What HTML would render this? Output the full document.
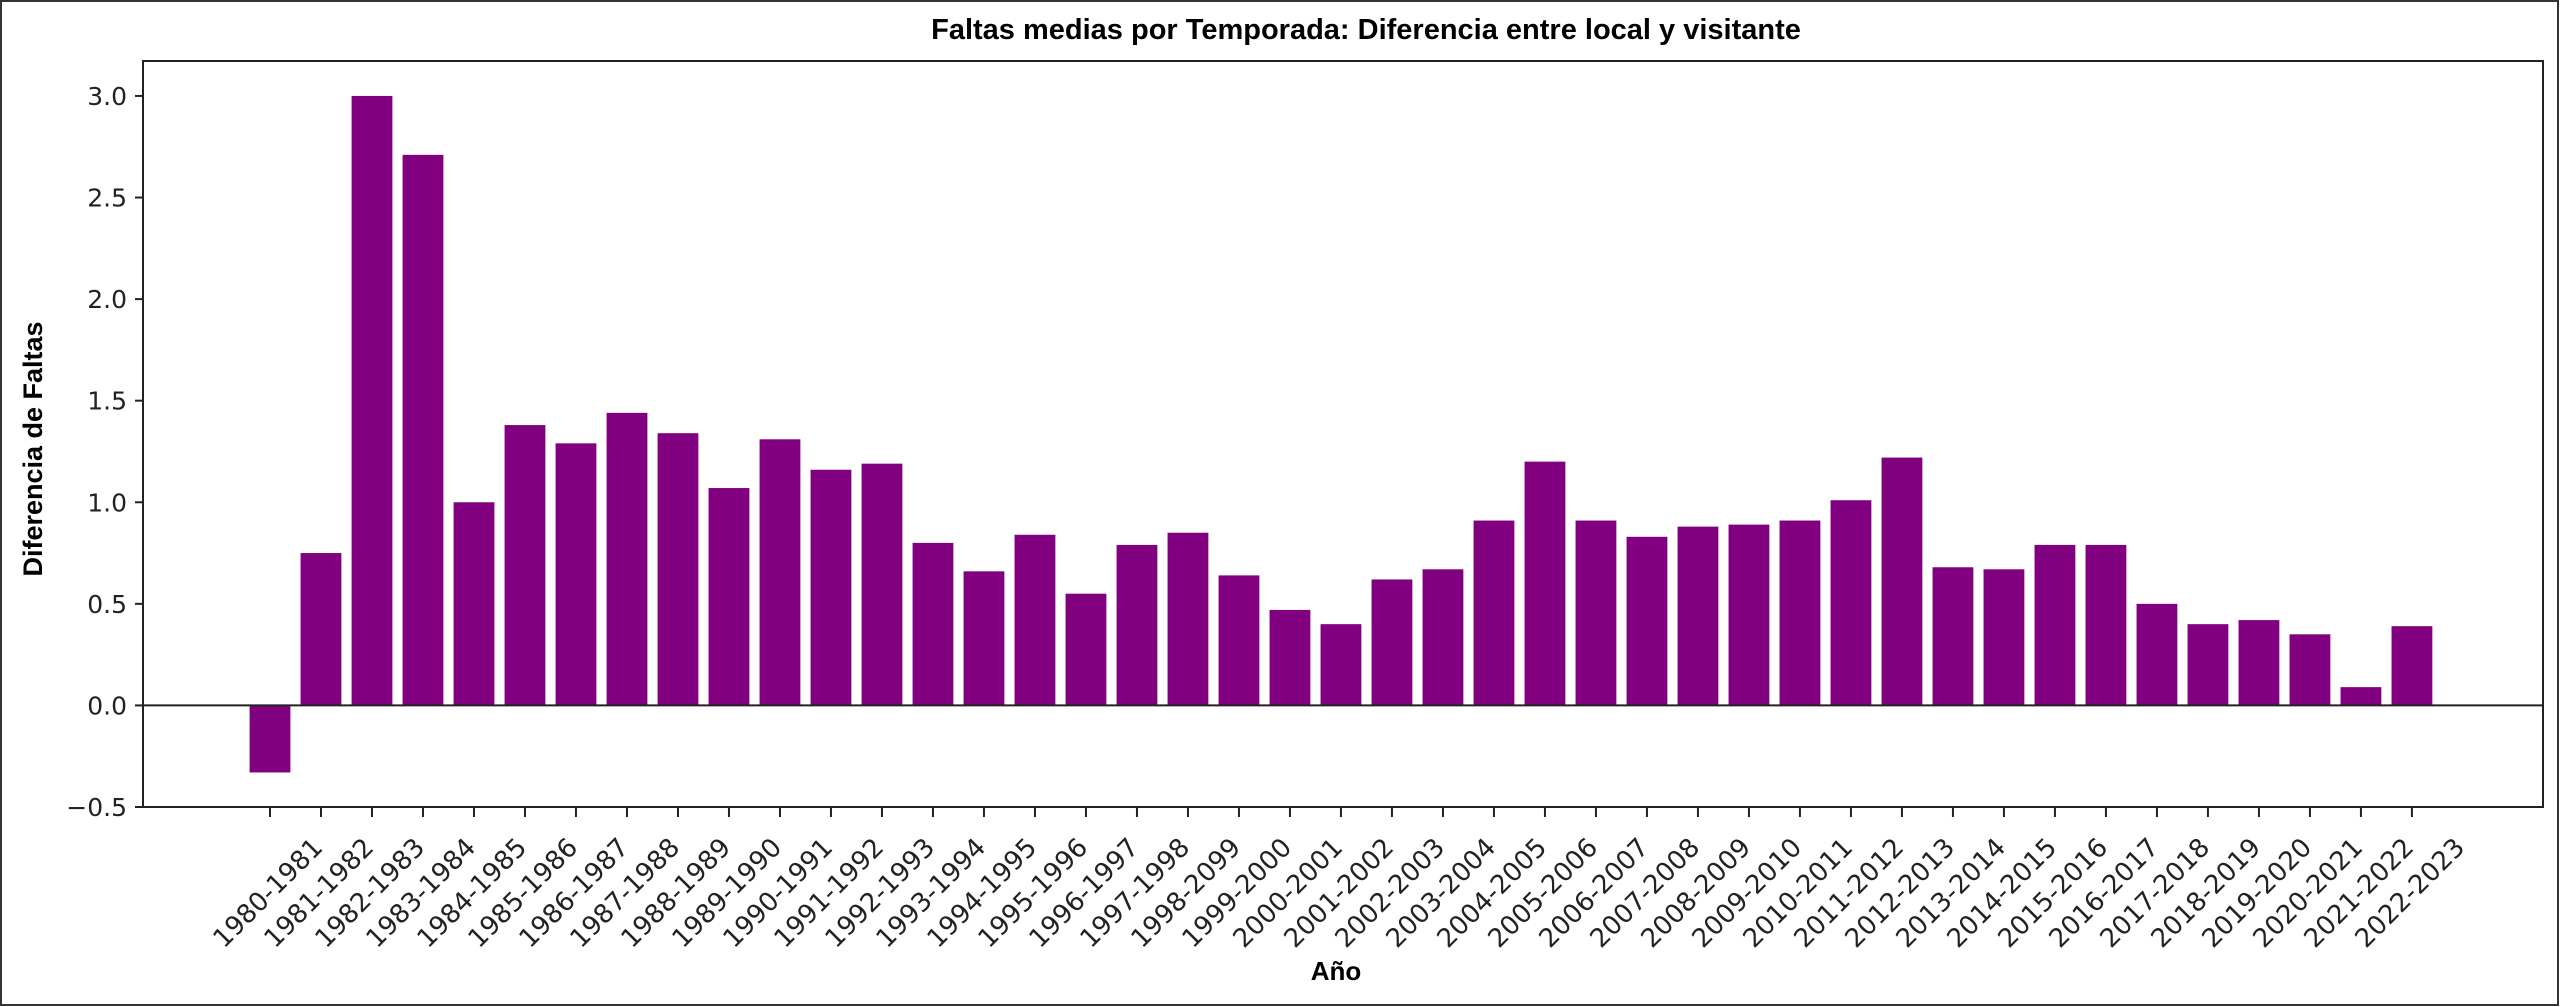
<!DOCTYPE html>
<html><head><meta charset="utf-8"><style>
html,body{margin:0;padding:0;background:#fff;}
svg{display:block;}
text{font-family:"DejaVu Sans","Liberation Sans",sans-serif;fill:#222;}
.b{font-family:"Liberation Sans",sans-serif;font-weight:bold;fill:#000;}
</style></head><body>
<svg id="chart" width="2560" height="1007" viewBox="0 0 2560 1007" xmlns="http://www.w3.org/2000/svg">
<rect x="1" y="1" width="2557" height="1004" fill="#fff" stroke="#333" stroke-width="2"/>
<text class="b" x="1366" y="39" font-size="29" text-anchor="middle">Faltas medias por Temporada: Diferencia entre local y visitante</text>
<text class="b" x="1336" y="980" font-size="26" text-anchor="middle">Año</text>
<text class="b" x="0" y="0" font-size="27" text-anchor="middle" transform="translate(42,449) rotate(-90)">Diferencia de Faltas</text>
<g id="bars"></g><g id="axes"></g>
</svg>
<script>
const categories = ["1980-1981","1981-1982","1982-1983","1983-1984","1984-1985","1985-1986","1986-1987","1987-1988","1988-1989","1989-1990","1990-1991","1991-1992","1992-1993","1993-1994","1994-1995","1995-1996","1996-1997","1997-1998","1998-2099","1999-2000","2000-2001","2001-2002","2002-2003","2003-2004","2004-2005","2005-2006","2006-2007","2007-2008","2008-2009","2009-2010","2010-2011","2011-2012","2012-2013","2013-2014","2014-2015","2015-2016","2016-2017","2017-2018","2018-2019","2019-2020","2020-2021","2021-2022","2022-2023"];
const values = [-0.33,0.75,3.0,2.71,1.0,1.38,1.29,1.44,1.34,1.07,1.31,1.16,1.19,0.80,0.66,0.84,0.55,0.79,0.85,0.64,0.47,0.40,0.62,0.67,0.91,1.20,0.91,0.83,0.88,0.89,0.91,1.01,1.22,0.68,0.67,0.79,0.79,0.50,0.40,0.42,0.35,0.09,0.39];
const yTicks = [-0.5,0.0,0.5,1.0,1.5,2.0,2.5,3.0];
const yTickLabels = ["\u22120.5","0.0","0.5","1.0","1.5","2.0","2.5","3.0"];

const NS="http://www.w3.org/2000/svg";
const L=143,R=2543,T=61,B=807;
const xMin=-2.49,xMax=44.57,yMin=-0.5,yMax=3.172;
const xs=v=>L+(v-xMin)/(xMax-xMin)*(R-L);
const ys=v=>B-(v-yMin)/(yMax-yMin)*(B-T);
function mk(tag,attrs,parent){const e=document.createElementNS(NS,tag);for(const k in attrs)e.setAttribute(k,attrs[k]);parent.appendChild(e);return e;}
const bars=document.getElementById('bars'),axes=document.getElementById('axes');
const bw=xs(0.8)-xs(0);
values.forEach((v,i)=>{
  const y0=ys(0),y1=ys(v);
  const r=mk('rect',{x:xs(i)-bw/2,y:Math.min(y0,y1),width:bw,height:Math.abs(y1-y0),fill:'#800080'},bars);
  
  
});
const zl=mk('line',{x1:L,x2:R,y1:ys(0),y2:ys(0),stroke:'#222','stroke-width':2},axes);


const fr=mk('rect',{x:L,y:T,width:R-L,height:B-T,fill:'none',stroke:'#222','stroke-width':2},axes);


yTicks.forEach((v,i)=>{
  const y=ys(v);
  mk('line',{x1:L-8,x2:L,y1:y,y2:y,stroke:'#222','stroke-width':2},axes);
  const t=mk('text',{x:L-16,y:y+9,'font-size':25,'text-anchor':'end'},axes);
  t.textContent=yTickLabels[i];
  
  
});
categories.forEach((c,i)=>{
  const x=xs(i);
  mk('line',{x1:x,x2:x,y1:B,y2:B+10,stroke:'#222','stroke-width':2},axes);
  const t=mk('text',{x:0,y:0,'font-size':26,'text-anchor':'middle',transform:`translate(${x+4},${B+92}) rotate(-45)`},axes);
  t.textContent=c;
  
  
});
</script>
</body></html>
